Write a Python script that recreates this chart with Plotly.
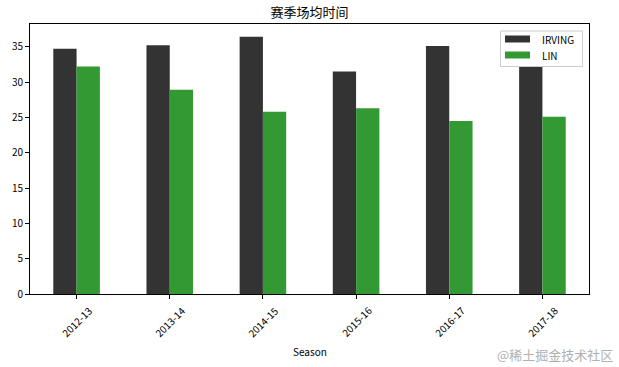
import plotly.graph_objects as go

seasons = ["2012-13", "2013-14", "2014-15", "2015-16", "2016-17", "2017-18"]
irving = [34.7, 35.2, 36.4, 31.5, 35.1, 32.2]
lin = [32.2, 28.9, 25.8, 26.3, 24.5, 25.1]

series_names = ["IRVING", "LIN"]
title_text = "赛季场均时间"
x_title = "Season"
watermark = "@稀土掘金技术社区"
c_irving = "#333333"
c_lin = "#339933"
FONT = "Noto Sans CJK SC"

W, H = 619, 367
ML, MR, MT, MB = 30, 30, 24, 73
PW, PH = W - ML - MR, H - MT - MB


def px(x):
    return (x - ML) / PW


def py(y):
    return (H - MB - y) / PH


fig = go.Figure()
fig.add_trace(go.Bar(x=seasons, y=irving, name=series_names[0],
                     marker=dict(color=c_irving, line=dict(width=0)), showlegend=False))
fig.add_trace(go.Bar(x=seasons, y=lin, name=series_names[1],
                     marker=dict(color=c_lin, line=dict(width=0)), showlegend=False))

ymax = max(max(irving), max(lin)) * 1.05

annotations = []
for s in seasons:
    annotations.append(dict(x=s, y=0, xref="x", yref="paper", text=s, showarrow=False,
                            textangle=-45, xanchor="center", yanchor="top", yshift=-6,
                            font=dict(family=FONT, size=10, color="#000")))
annotations.append(dict(x=0.5, y=0, xref="paper", yref="paper", text=x_title, showarrow=False,
                        xanchor="center", yanchor="top", yshift=-48,
                        font=dict(family=FONT, size=10, color="#000")))
annotations.append(dict(x=1, y=0, xref="paper", yref="paper", text=watermark, showarrow=False,
                        xanchor="right", yanchor="middle", yshift=-60, xshift=26,
                        font=dict(family=FONT, size=13, color="#b0b0b0")))

# matplotlib-style legend box (drawn as layout shapes + text)
shapes = [dict(type="rect", xref="paper", yref="paper", layer="above",
               x0=px(500.5), x1=px(582.5), y0=py(31), y1=py(66.5),
               fillcolor="white", line=dict(color="#cccccc", width=1))]
legend_rows = [(series_names[0], c_irving, 39), (series_names[1], c_lin, 55)]
for name, col, cy in legend_rows:
    shapes.append(dict(type="rect", xref="paper", yref="paper", layer="above",
                       x0=px(505), x1=px(530), y0=py(cy - 3.5), y1=py(cy + 3.5),
                       fillcolor=col, line=dict(width=0)))
    annotations.append(dict(x=px(540), y=py(cy), xref="paper", yref="paper", text=name,
                            showarrow=False, xanchor="left", yanchor="middle",
                            font=dict(family=FONT, size=10, color="#000")))

fig.update_layout(
    width=W, height=H,
    margin=dict(l=ML, r=MR, t=MT, b=MB),
    paper_bgcolor="white", plot_bgcolor="white",
    barmode="group", bargap=0.5, bargroupgap=0,
    showlegend=False,
    title=dict(text=title_text, x=0.5, xref="paper", xanchor="center",
               y=1 - 12 / H, yref="container", yanchor="middle",
               font=dict(family=FONT, size=13, color="#000")),
    font=dict(family=FONT, size=10, color="#000"),
    annotations=annotations,
    shapes=shapes,
    xaxis=dict(range=[-0.5, len(seasons) - 0.5], showticklabels=False, ticks="outside", ticklen=4,
               tickcolor="#000", showline=True, linecolor="#000", linewidth=1, mirror=True,
               showgrid=False, zeroline=False),
    yaxis=dict(range=[0, ymax], tickmode="array", tickvals=[0, 5, 10, 15, 20, 25, 30, 35],
               ticks="outside", ticklen=4, tickcolor="#000", showline=True, linecolor="#000",
               linewidth=1, mirror=True, showgrid=False, zeroline=False,
               tickfont=dict(family=FONT, size=10, color="#000")),
)

fig.write_html("out.html")
